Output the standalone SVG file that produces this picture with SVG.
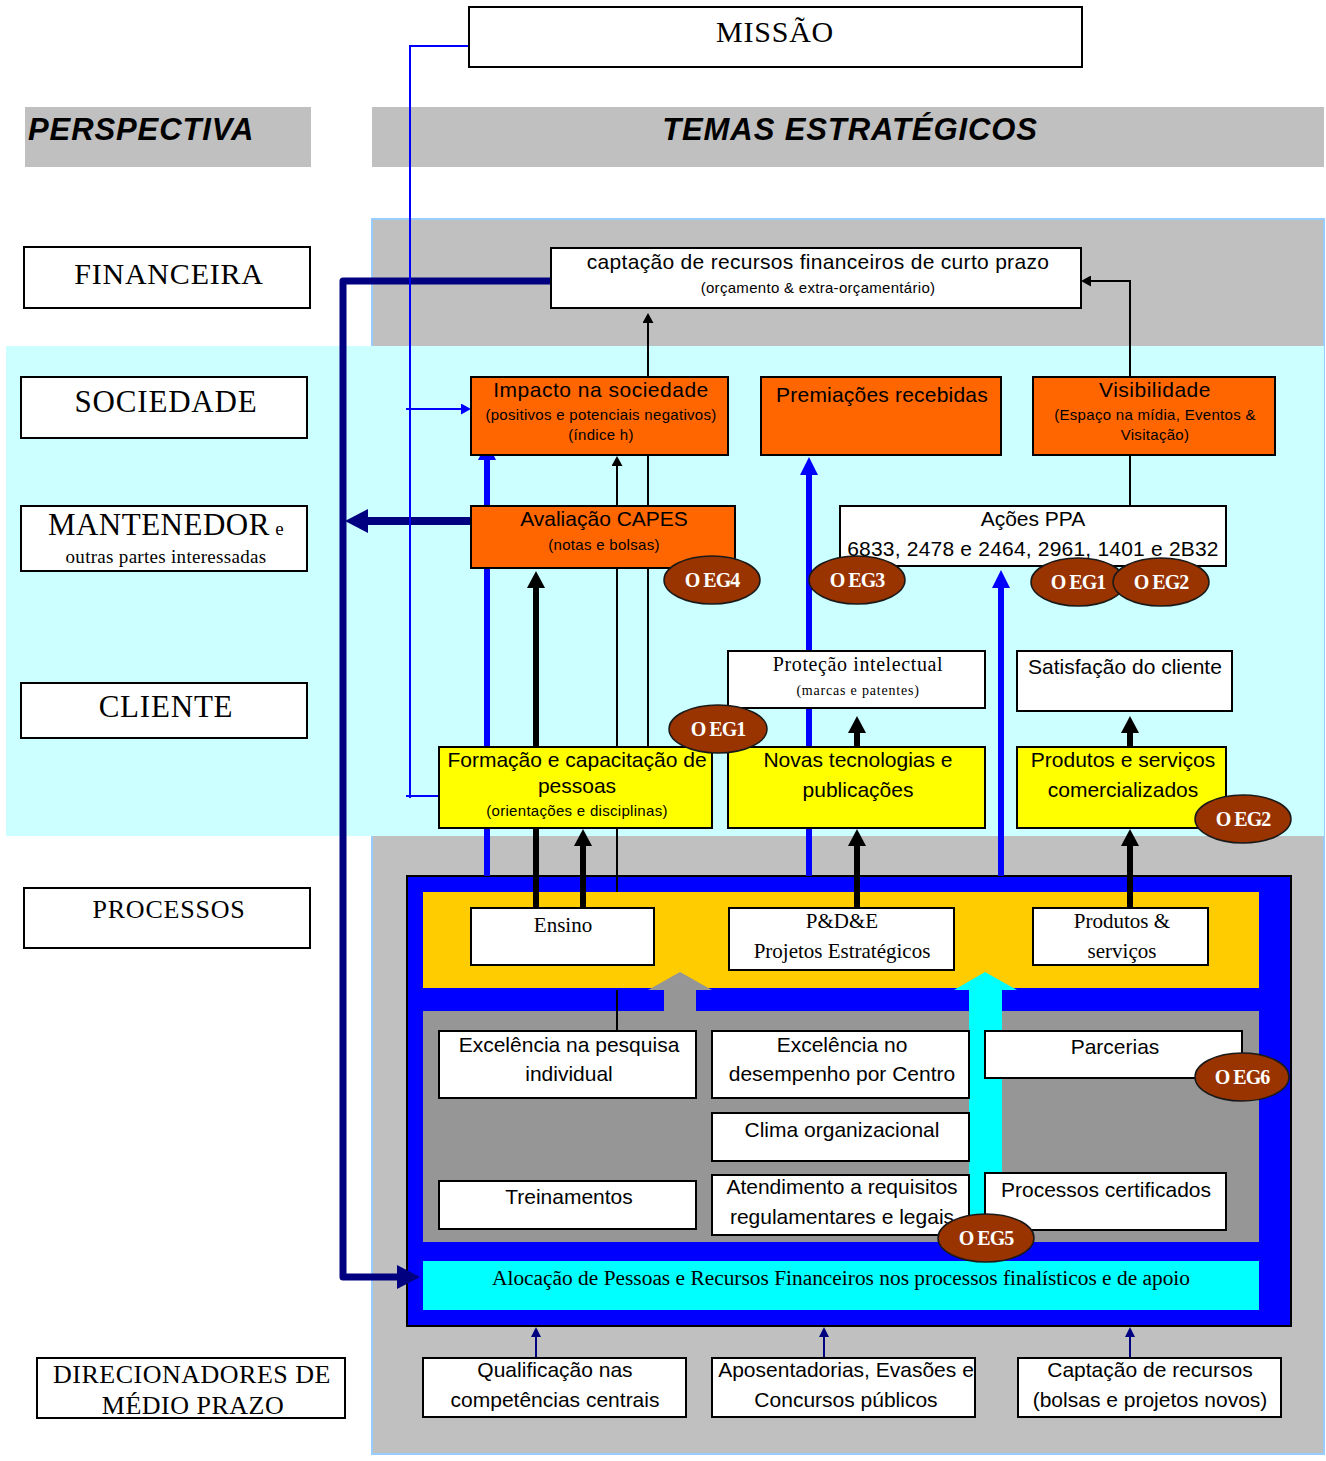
<svg xmlns="http://www.w3.org/2000/svg" width="1326" height="1461" viewBox="0 0 1326 1461">
<style>
.box{stroke:#000;stroke-width:2}
.w{fill:#fff}
.o{fill:#FF6600}
.y{fill:#FFFF00}
.s{font-family:"Liberation Sans",Arial,sans-serif;fill:#000;text-anchor:middle}
.r{font-family:"Liberation Serif","Times New Roman",serif;fill:#000;text-anchor:middle}
.lb{letter-spacing:0.8px}
.f21{font-size:21px}
.f15{font-size:15px;letter-spacing:0.3px}
.oeg ellipse{fill:#993300;stroke:#1a1a1a;stroke-width:1.5}
.oeg text{font-family:"Liberation Serif","Times New Roman",serif;font-weight:bold;font-size:20px;fill:#fff;letter-spacing:-1px;text-anchor:middle}
.hdr{font-family:"Liberation Sans",Arial,sans-serif;font-weight:bold;font-style:italic;font-size:31px;fill:#000;letter-spacing:0.9px}
.thk{fill:none;stroke-width:6}
.thn{fill:none;stroke-width:2}
</style>
<defs>
<marker id="aNavy" markerUnits="userSpaceOnUse" markerWidth="24" markerHeight="24" viewBox="0 0 24 24" refX="0" refY="12" orient="auto"><path d="M0,0 L23,12 L0,24 z" fill="#000080"/></marker>
<marker id="aBlue" markerUnits="userSpaceOnUse" markerWidth="18" markerHeight="18" viewBox="0 0 18 18" refX="0" refY="9" orient="auto"><path d="M0,0 L18,9 L0,18 z" fill="#0000FF"/></marker>
<marker id="aBlack" markerUnits="userSpaceOnUse" markerWidth="18" markerHeight="18" viewBox="0 0 18 18" refX="0" refY="9" orient="auto"><path d="M0,0 L17,9 L0,18 z" fill="#000"/></marker>
<marker id="aThin" markerUnits="userSpaceOnUse" markerWidth="11" markerHeight="11" viewBox="0 0 11 11" refX="0" refY="5.5" orient="auto"><path d="M0,0 L10,5.5 L0,11 z" fill="#000"/></marker>
<marker id="aThinBlue" markerUnits="userSpaceOnUse" markerWidth="11" markerHeight="11" viewBox="0 0 11 11" refX="0" refY="5.5" orient="auto"><path d="M0,0 L10,5.5 L0,11 z" fill="#0000FF"/></marker>
<marker id="aThinNavy" markerUnits="userSpaceOnUse" markerWidth="10" markerHeight="10" viewBox="0 0 10 10" refX="0" refY="5" orient="auto"><path d="M0,0 L10,5 L0,10 z" fill="#000080"/></marker>
</defs>

<g id="background">
<rect x="25" y="107" width="286" height="60" fill="#C0C0C0"/>
<rect x="372" y="107" width="952" height="60" fill="#C0C0C0"/>
<rect x="372" y="219" width="952" height="1235" fill="#C0C0C0" stroke="#99CCFF" stroke-width="2"/>
<rect x="6" y="346" width="1318" height="490" fill="#CCFFFF"/>
<text class="hdr" x="28" y="140">PERSPECTIVA</text>
<text class="hdr" x="850" y="140" text-anchor="middle">TEMAS ESTRATÉGICOS</text>
</g>

<g id="processos-frame">
<rect x="407" y="876" width="884" height="450" fill="#0000FF" stroke="#000" stroke-width="2"/>
<rect x="423" y="892" width="836" height="96" fill="#FFCC00"/>
<rect x="423" y="1011" width="836" height="231" fill="#969696"/>
<rect x="423" y="1261" width="836" height="49" fill="#00FFFF"/>
</g>

<g id="connectors">
<polygon points="664,1011 664,990 648,990 680,972 712,990 696,990 696,1011" fill="#969696"/>
<polygon points="969,1235 969,990 954,990 985,972 1017,990 1002,990 1002,1235" fill="#00FFFF"/>
<path d="M551,281 H343 V1277 H397" fill="none" stroke="#000080" stroke-width="7" stroke-linejoin="round" marker-end="url(#aNavy)"/>
<path d="M471,521 H368" fill="none" stroke="#000080" stroke-width="8" marker-end="url(#aNavy)"/>
<path d="M469,46 H410 V798 M406,796 H439" class="thn" stroke="#0000FF"/>
<path d="M406,409 H461" class="thn" stroke="#0000FF" marker-end="url(#aThinBlue)"/>
<path d="M487,876 V460" class="thk" stroke="#0000FF" marker-end="url(#aBlue)"/>
<path d="M809,876 V475" class="thk" stroke="#0000FF" marker-end="url(#aBlue)"/>
<path d="M1001,876 V588" class="thk" stroke="#0000FF" marker-end="url(#aBlue)"/>
<path d="M536,908 V588" class="thk" stroke="#000" marker-end="url(#aBlack)"/>
<path d="M583,908 V846" class="thk" stroke="#000" marker-end="url(#aBlack)"/>
<path d="M857,908 V846" class="thk" stroke="#000" marker-end="url(#aBlack)"/>
<path d="M857,747 V733" class="thk" stroke="#000" marker-end="url(#aBlack)"/>
<path d="M1130,908 V846" class="thk" stroke="#000" marker-end="url(#aBlack)"/>
<path d="M1130,747 V733" class="thk" stroke="#000" marker-end="url(#aBlack)"/>
<path d="M617,1031 V990 M617,892 V828 M617,747 V568 M617,506 V466" class="thn" stroke="#000" marker-end="url(#aThin)"/>
<path d="M648,747 V455" class="thn" stroke="#000"/>
<path d="M648,377 V323" class="thn" stroke="#000" marker-end="url(#aThin)"/>
<path d="M1130,506 V455" class="thn" stroke="#000"/>
<path d="M1130,377 V281 H1091" class="thn" stroke="#000" marker-end="url(#aThin)"/>
<path d="M536,1357 V1337" class="thn" stroke="#000080" marker-end="url(#aThinNavy)"/>
<path d="M824,1357 V1337" class="thn" stroke="#000080" marker-end="url(#aThinNavy)"/>
<path d="M1130,1357 V1337" class="thn" stroke="#000080" marker-end="url(#aThinNavy)"/>
</g>

<g id="missao"><rect class="box w" x="469" y="7" width="613" height="60"/><text class="r lb" x="775" y="42" font-size="30">MISSÃO</text></g>

<g id="lbl-financeira"><rect class="box w" x="24" y="247" width="286" height="61"/><text class="r lb" x="169" y="284" font-size="30">FINANCEIRA</text></g>
<g id="lbl-sociedade"><rect class="box w" x="21" y="377" width="286" height="61"/><text class="r lb" x="166" y="412" font-size="31">SOCIEDADE</text></g>
<g id="lbl-mantenedor"><rect class="box w" x="21" y="506" width="286" height="65"/><text class="r" x="166" y="535" font-size="31" letter-spacing="0.5">MANTENEDOR<tspan font-size="19"> e</tspan></text><text class="r" x="166" y="563" font-size="19" letter-spacing="0.3">outras partes interessadas</text></g>
<g id="lbl-cliente"><rect class="box w" x="21" y="683" width="286" height="55"/><text class="r lb" x="166" y="717" font-size="31">CLIENTE</text></g>
<g id="lbl-processos"><rect class="box w" x="24" y="888" width="286" height="60"/><text class="r lb" x="169" y="918" font-size="26">PROCESSOS</text></g>
<g id="lbl-direcionadores"><rect class="box w" x="37" y="1358" width="308" height="60"/><text class="r" x="192" y="1383" font-size="26" letter-spacing="0.5">DIRECIONADORES DE</text><text class="r" x="193" y="1414" font-size="26" letter-spacing="0.5">MÉDIO PRAZO</text></g>

<g id="captacao"><rect class="box w" x="551" y="248" width="530" height="60"/><text class="s f21" x="818" y="269" letter-spacing="0.3">captação de recursos financeiros de curto prazo</text><text class="s f15" x="818" y="293">(orçamento &amp; extra-orçamentário)</text></g>

<g id="impacto"><rect class="box o" x="471" y="377" width="257" height="78"/><text class="s f21" x="601" y="397" letter-spacing="0.5">Impacto na sociedade</text><text class="s f15" x="601" y="420">(positivos e potenciais negativos)</text><text class="s f15" x="601" y="440">(índice h)</text></g>
<g id="premiacoes"><rect class="box o" x="761" y="377" width="240" height="78"/><text class="s f21" x="882" y="402" letter-spacing="0.2">Premiações recebidas</text></g>
<g id="visibilidade"><rect class="box o" x="1033" y="377" width="242" height="78"/><text class="s f21" x="1155" y="397" letter-spacing="0.5">Visibilidade</text><text class="s f15" x="1155" y="420">(Espaço na mídia, Eventos &amp;</text><text class="s f15" x="1155" y="440">Visitação)</text></g>

<g id="avaliacao"><rect class="box o" x="471" y="506" width="264" height="62"/><text class="s f21" x="604" y="526">Avaliação CAPES</text><text class="s f15" x="604" y="550">(notas e bolsas)</text></g>
<g id="acoes-ppa"><rect class="box w" x="840" y="506" width="386" height="60"/><text class="s f21" x="1033" y="526">Ações PPA</text><text class="s f21" x="1033" y="556" letter-spacing="0.2">6833, 2478 e 2464, 2961, 1401 e 2B32</text></g>

<g id="protecao"><rect class="box w" x="728" y="651" width="257" height="57"/><text class="r" x="858" y="671" font-size="20" letter-spacing="0.6">Proteção intelectual</text><text class="r" x="858" y="695" font-size="14" letter-spacing="0.8">(marcas e patentes)</text></g>
<g id="satisfacao"><rect class="box w" x="1017" y="651" width="215" height="60"/><text class="s f21" x="1125" y="674">Satisfação do cliente</text></g>

<g id="formacao"><rect class="box y" x="439" y="747" width="273" height="81"/><text class="s f21" x="577" y="767">Formação e capacitação de</text><text class="s f21" x="577" y="793">pessoas</text><text class="s f15" x="577" y="816">(orientações e disciplinas)</text></g>
<g id="novas"><rect class="box y" x="728" y="747" width="257" height="81"/><text class="s f21" x="858" y="767">Novas tecnologias e</text><text class="s f21" x="858" y="797">publicações</text></g>
<g id="produtos-com"><rect class="box y" x="1017" y="747" width="209" height="81"/><text class="s f21" x="1123" y="767">Produtos e serviços</text><text class="s f21" x="1123" y="797">comercializados</text></g>

<g id="ensino"><rect class="box w" x="471" y="908" width="183" height="57"/><text class="r" x="563" y="932" font-size="21">Ensino</text></g>
<g id="pde"><rect class="box w" x="729" y="908" width="225" height="62"/><text class="r" x="842" y="928" font-size="21">P&amp;D&amp;E</text><text class="r" x="842" y="958" font-size="21">Projetos Estratégicos</text></g>
<g id="produtos-serv"><rect class="box w" x="1033" y="908" width="175" height="57"/><text class="r" x="1122" y="928" font-size="21">Produtos &amp;</text><text class="r" x="1122" y="958" font-size="21">serviços</text></g>

<g id="exc-pesquisa"><rect class="box w" x="439" y="1031" width="257" height="67"/><text class="s f21" x="569" y="1052">Excelência na pesquisa</text><text class="s f21" x="569" y="1081">individual</text></g>
<g id="exc-desempenho"><rect class="box w" x="712" y="1031" width="257" height="67"/><text class="s f21" x="842" y="1052">Excelência no</text><text class="s f21" x="842" y="1081">desempenho por Centro</text></g>
<g id="parcerias"><rect class="box w" x="985" y="1031" width="257" height="47"/><text class="s f21" x="1115" y="1054">Parcerias</text></g>
<g id="clima"><rect class="box w" x="712" y="1113" width="257" height="48"/><text class="s f21" x="842" y="1137">Clima organizacional</text></g>
<g id="treinamentos"><rect class="box w" x="439" y="1181" width="257" height="48"/><text class="s f21" x="569" y="1204">Treinamentos</text></g>
<g id="atendimento"><rect class="box w" x="712" y="1175" width="257" height="60"/><text class="s f21" x="842" y="1194">Atendimento a requisitos</text><text class="s f21" x="842" y="1224">regulamentares e legais</text></g>
<g id="certificados"><rect class="box w" x="985" y="1173" width="241" height="57"/><text class="s f21" x="1106" y="1197">Processos certificados</text></g>

<g id="alocacao"><text class="r" x="841" y="1285" font-size="20" textLength="698" lengthAdjust="spacingAndGlyphs">Alocação de Pessoas e Recursos Financeiros nos processos finalísticos e de apoio</text></g>

<g id="qualificacao"><rect class="box w" x="423" y="1358" width="263" height="59"/><text class="s f21" x="555" y="1377">Qualificação nas</text><text class="s f21" x="555" y="1407">competências centrais</text></g>
<g id="aposentadorias"><rect class="box w" x="712" y="1358" width="263" height="59"/><text class="s f21" x="846" y="1377">Aposentadorias, Evasões e</text><text class="s f21" x="846" y="1407">Concursos públicos</text></g>
<g id="captacao-rec"><rect class="box w" x="1018" y="1358" width="263" height="59"/><text class="s f21" x="1150" y="1377">Captação de recursos</text><text class="s f21" x="1150" y="1407">(bolsas e projetos novos)</text></g>

<g id="oeg4" class="oeg"><ellipse cx="712" cy="580" rx="48" ry="24"/><text x="712" y="587">O EG4</text></g>
<g id="oeg3" class="oeg"><ellipse cx="857" cy="580" rx="48" ry="24"/><text x="857" y="587">O EG3</text></g>
<g id="oeg1a" class="oeg"><ellipse cx="1078" cy="582" rx="47" ry="24"/><text x="1078" y="589">O EG1</text></g>
<g id="oeg2a" class="oeg"><ellipse cx="1161" cy="582" rx="48" ry="24"/><text x="1161" y="589">O EG2</text></g>
<g id="oeg1b" class="oeg"><ellipse cx="718" cy="729" rx="49" ry="24"/><text x="718" y="736">O EG1</text></g>
<g id="oeg2b" class="oeg"><ellipse cx="1243" cy="819" rx="48" ry="24"/><text x="1243" y="826">O EG2</text></g>
<g id="oeg6" class="oeg"><ellipse cx="1242" cy="1077" rx="47" ry="24"/><text x="1242" y="1084">O EG6</text></g>
<g id="oeg5" class="oeg"><ellipse cx="986" cy="1238" rx="48" ry="24"/><text x="986" y="1245">O EG5</text></g>
</svg>
